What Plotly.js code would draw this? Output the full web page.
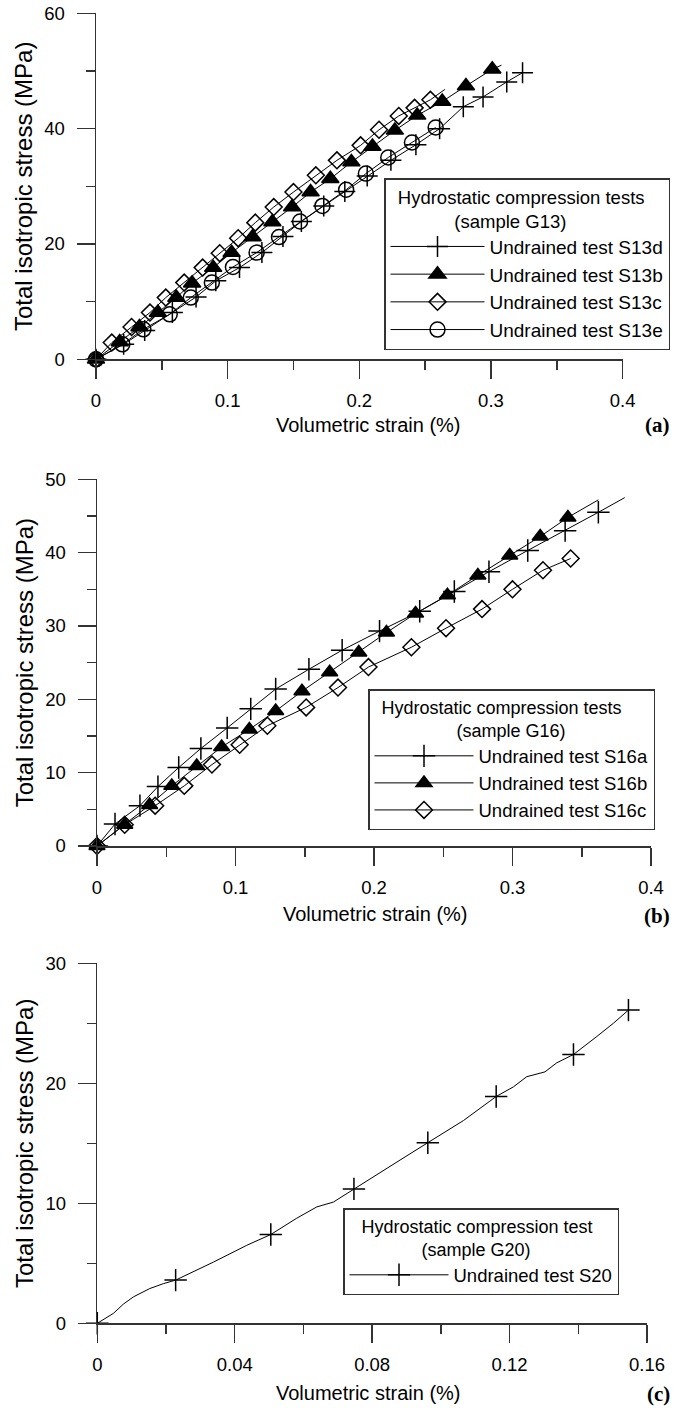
<!DOCTYPE html>
<html><head><meta charset="utf-8">
<script src="https://cdn.plot.ly/plotly-3.0.1.min.js"></script>
<style>html,body{margin:0;padding:0;background:#fff;}#chart{width:676px;height:1408px;}</style>
</head><body><div id="chart"></div>
<script>
// ---------- Panel (a): sample G13 ----------
const s13d_x = [0,0.021,0.037,0.058,0.076,0.091,0.109,0.126,0.142,0.156,0.173,0.189,0.206,0.224,0.243,0.261,0.279,0.294,0.312,0.324];
const s13d_y = [0,2.6,5.0,8.1,10.8,13.6,15.9,18.5,21.3,23.9,26.6,29.1,31.8,34.5,37.2,40.0,43.8,45.5,48.1,49.7];
const s13b_x = [0,0.018,0.033,0.047,0.061,0.073,0.089,0.103,0.119,0.134,0.149,0.163,0.178,0.194,0.210,0.227,0.244,0.263,0.281,0.301];
const s13b_y = [0,3.0,5.6,8.1,10.7,13.2,15.9,18.5,21.2,23.8,26.4,29.0,31.3,34.2,36.9,39.7,42.3,44.7,47.4,50.3];
const s13b_end_x = [0.301,0.308];
const s13b_end_y = [50.3,51.0];
const s13c_x = [0,0.012,0.027,0.041,0.053,0.067,0.081,0.094,0.108,0.121,0.135,0.150,0.167,0.183,0.201,0.215,0.230,0.242,0.254];
const s13c_y = [0,2.9,5.6,8.1,10.7,13.3,15.9,18.4,21.0,23.7,26.4,29.0,31.9,34.5,37.1,39.8,42.2,43.6,45.0];
const s13c_end_x = [0.254,0.265];
const s13c_end_y = [45.0,46.8];
const s13e_x = [0,0.020,0.036,0.056,0.072,0.088,0.104,0.122,0.139,0.155,0.172,0.190,0.205,0.222,0.240,0.258];
const s13e_y = [0,2.6,5.2,7.8,10.7,13.3,16.0,18.5,21.2,23.9,26.6,29.4,32.2,35.0,37.6,40.2];

// ---------- Panel (b): sample G16 ----------
const s16a_x = [0,0.013,0.031,0.044,0.059,0.075,0.094,0.111,0.129,0.153,0.177,0.204,0.233,0.258,0.283,0.311,0.338,0.362];
const s16a_y = [0,3.0,5.5,8.1,10.7,13.3,16.1,18.7,21.4,24.1,26.7,29.3,32.0,34.7,37.4,40.3,43.0,45.5];
const s16a_end_x = [0.362,0.381];
const s16a_end_y = [45.5,47.5];
const s16b_x = [0,0.020,0.038,0.054,0.072,0.090,0.110,0.129,0.148,0.168,0.189,0.209,0.230,0.253,0.275,0.298,0.320,0.340];
const s16b_y = [0,2.9,5.6,8.2,10.9,13.5,15.9,18.4,21.1,23.7,26.4,29.1,31.7,34.2,36.9,39.6,42.2,44.8];
const s16b_end_x = [0.340,0.362];
const s16b_end_y = [44.8,47.2];
const s16c_x = [0,0.020,0.042,0.063,0.083,0.103,0.123,0.151,0.174,0.196,0.227,0.252,0.278,0.300,0.322,0.342];
const s16c_y = [0,2.9,5.5,8.2,11.1,13.8,16.4,18.9,21.6,24.4,27.1,29.7,32.3,35.0,37.6,39.2];

// ---------- Panel (c): sample G20 ----------
const s20_mark_x = [0,0.0228,0.0505,0.0747,0.0962,0.1161,0.1386,0.1546];
const s20_mark_y = [0,3.6,7.4,11.2,15.05,18.9,22.4,26.1];
const s20_line_x = [0,0.0047,0.0076,0.0105,0.0153,0.0192,0.0228,0.0338,0.0435,0.0505,0.0580,0.0639,0.0687,0.0747,0.0881,0.0962,0.1066,0.1161,0.1211,0.1250,0.1279,0.1303,0.1337,0.1386,0.1454,0.1502,0.1546];
const s20_line_y = [0,0.83,1.6,2.2,2.9,3.3,3.6,5.1,6.5,7.4,8.75,9.7,10.1,11.2,13.6,15.05,16.9,18.9,19.7,20.55,20.8,20.95,21.7,22.4,23.9,25.0,26.1];

const FONT = 'Liberation Sans, Arial, Helvetica, sans-serif';
const SERIF = 'Liberation Serif, Times New Roman, serif';
const AX = '#333';
const W = 676, H = 1408;
const NB = '\u00A0';

function mk(sym, size) { return {symbol: sym, size: size, color: '#000', line: {color: '#000', width: 1.5}}; }
function series(x, y, name, sym, size, xa, ya, leg) {
  return {x: x, y: y, name: name, type: 'scatter', mode: 'lines+markers',
    xaxis: xa, yaxis: ya, legend: leg, cliponaxis: false,
    line: {color: '#000', width: 1}, marker: mk(sym, size)};
}
function lineOnly(x, y, xa, ya) {
  return {x: x, y: y, type: 'scatter', mode: 'lines', showlegend: false, hoverinfo: 'skip',
    xaxis: xa, yaxis: ya, cliponaxis: false, line: {color: '#000', width: 1}};
}

const s20marks = series(s20_mark_x, s20_mark_y, 'Undrained test S20', 'cross-thin', 16, 'x3', 'y3', 'legend3');
s20marks.mode = 'markers';
s20marks.showlegend = false;
const s20legend = series([null], [null], 'Undrained test S20', 'cross-thin', 16, 'x3', 'y3', 'legend3');

const traces = [
  series(s13d_x, s13d_y, 'Undrained test S13d', 'cross-thin', 15, 'x', 'y', 'legend'),
  series(s13b_x, s13b_y, 'Undrained test S13b', 'triangle-up', 15, 'x', 'y', 'legend'),
  series(s13c_x, s13c_y, 'Undrained test S13c', 'diamond-open', 13, 'x', 'y', 'legend'),
  series(s13e_x, s13e_y, 'Undrained test S13e', 'circle-open', 15, 'x', 'y', 'legend'),
  lineOnly(s13b_end_x, s13b_end_y, 'x', 'y'),
  lineOnly(s13c_end_x, s13c_end_y, 'x', 'y'),
  series(s16a_x, s16a_y, 'Undrained test S16a', 'cross-thin', 16, 'x2', 'y2', 'legend2'),
  series(s16b_x, s16b_y, 'Undrained test S16b', 'triangle-up', 14, 'x2', 'y2', 'legend2'),
  series(s16c_x, s16c_y, 'Undrained test S16c', 'diamond-open', 13, 'x2', 'y2', 'legend2'),
  lineOnly(s16a_end_x, s16a_end_y, 'x2', 'y2'),
  lineOnly(s16b_end_x, s16b_end_y, 'x2', 'y2'),
  lineOnly(s20_line_x, s20_line_y, 'x3', 'y3'),
  s20marks,
  s20legend
];

function xAxis(dom, anchor, range, dtick, minor) {
  return {domain: dom, anchor: anchor, range: range, dtick: dtick, tick0: 0,
    showline: true, linecolor: AX, linewidth: 1.5, ticks: 'outside', ticklen: 18,
    tickwidth: 1.5, tickcolor: AX, showgrid: false, zeroline: false,
    minor: {dtick: minor, ticks: 'outside', ticklen: 9, tickwidth: 1.5, tickcolor: AX, showgrid: false},
    tickfont: {family: FONT, size: 18.5, color: '#000'}, ticklabelstandoff: 6,
    fixedrange: true};
}
function yAxis(dom, anchor, range, dtick, minor) {
  return {domain: dom, anchor: anchor, range: range, dtick: dtick, tick0: 0,
    showline: true, linecolor: AX, linewidth: 1.5, ticks: 'outside', ticklen: 18,
    tickwidth: 1.5, tickcolor: AX, showgrid: false, zeroline: false,
    minor: {dtick: minor, ticks: 'outside', ticklen: 9, tickwidth: 1.5, tickcolor: AX, showgrid: false},
    tickfont: {family: FONT, size: 18.5, color: '#000'}, ticklabelstandoff: 8,
    title: {text: 'Total isotropic stress (MPa)', font: {family: FONT, size: 24, color: '#000'}, standoff: 5},
    fixedrange: true};
}
function px2x(p) { return p / W; }
function py2y(p) { return 1 - p / H; }

function legendBox(x, y, title, iw, fs) {
  return {x: x, y: y, xanchor: 'left', yanchor: 'top', bgcolor: '#fff',
    bordercolor: '#333', borderwidth: 1.5, itemwidth: iw, tracegroupgap: 0,
    font: {family: FONT, size: fs, color: '#000'},
    title: {text: title, side: 'top', font: {family: FONT, size: fs - 0.5, color: '#000'}},
    itemclick: false, itemdoubleclick: false};
}
function note(text, x, y, fam, size, bold, xanchor) {
  return {text: text, xref: 'paper', yref: 'paper', x: px2x(x), y: py2y(y),
    xanchor: xanchor, yanchor: 'middle', showarrow: false,
    font: {family: fam, size: size, color: '#000', weight: bold ? 'bold' : 'normal'}};
}

const layout = {
  width: W, height: H, margin: {l: 0, r: 0, t: 0, b: 0},
  paper_bgcolor: '#fff', plot_bgcolor: 'rgba(0,0,0,0)', showlegend: true,
  font: {family: FONT, color: '#000'},
  xaxis: xAxis([px2x(96), px2x(622.6)], 'y', [0, 0.4], 0.1, 0.05),
  yaxis: yAxis([py2y(359.3), py2y(13.3)], 'x', [0, 60], 20, 10),
  xaxis2: xAxis([px2x(97), px2x(651)], 'y2', [0, 0.4], 0.1, 0.05),
  yaxis2: yAxis([py2y(846), py2y(479.3)], 'x2', [0, 50], 10, 5),
  xaxis3: xAxis([px2x(97.3), px2x(647)], 'y3', [0, 0.16], 0.04, 0.02),
  yaxis3: yAxis([py2y(1323.3), py2y(963.3)], 'x3', [0, 30], 10, 5),
  legend: legendBox(px2x(384), py2y(178), NB.repeat(2) + 'Hydrostatic compression tests<br>' + NB.repeat(13) + '(sample G13)', 94, 19),
  legend2: legendBox(px2x(368), py2y(689), NB.repeat(2) + 'Hydrostatic compression tests<br>' + NB.repeat(17) + '(sample G16)', 99, 18.5),
  legend3: legendBox(px2x(343), py2y(1208), NB.repeat(3) + 'Hydrostatic compression test<br>' + NB.repeat(15) + '(sample G20)', 99, 18.5),
  annotations: [
    note('Volumetric strain (%)', 368, 425, FONT, 20, false, 'center'),
    note('Volumetric strain (%)', 376, 914, FONT, 20, false, 'center'),
    note('Volumetric strain (%)', 369, 1393, FONT, 20, false, 'center'),
    note('(a)', 672, 425, SERIF, 21, true, 'right'),
    note('(b)', 672, 916, SERIF, 21, true, 'right'),
    note('(c)', 672, 1394, SERIF, 21, true, 'right')
  ]
};

Plotly.newPlot('chart', traces, layout, {staticPlot: true, displayModeBar: false});
</script>
</body></html>
